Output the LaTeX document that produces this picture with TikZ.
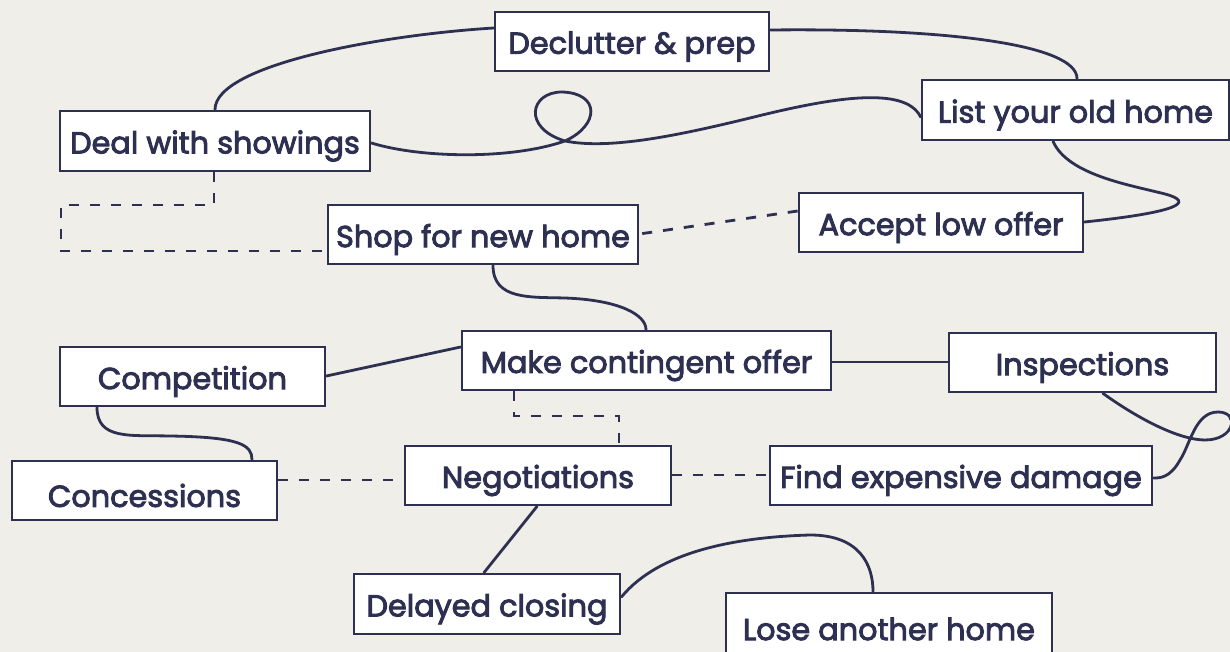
\documentclass[tikz,border=0pt]{standalone}
\usepackage{fontspec}
\setmainfont{Poppins}[FakeBold=3]
\definecolor{bg}{HTML}{F0EEE9}
\definecolor{ink}{HTML}{2D3050}
\newcommand{\lbl}[1]{\raisebox{-5pt}[\height][\depth]{#1}}
\begin{document}
\begin{tikzpicture}[x=1pt,y=-1pt,
  box/.style={draw=ink, line width=2.8pt, fill=white, inner sep=0pt, text=ink,
    font=\fontsize{30.3}{33}\selectfont, align=center},
  wire/.style={draw=ink, line width=2.8pt, line cap=round},
  dwire/.style={draw=ink, line width=2.8pt, dash pattern=on 10pt off 11pt}]
\fill[bg] (0,0) rectangle (1230,652);
\useasboundingbox (0,0) rectangle (1230,652);
\node[box, minimum width=274pt, minimum height=59pt] (declutter) at (632,41.5) {\lbl{Declutter \& prep}};
\node[box, minimum width=307pt, minimum height=60pt] (listold) at (1075.5,110) {\lbl{List your old home}};
\node[box, minimum width=310pt, minimum height=60pt] (deal) at (215,141) {\lbl{Deal with showings}};
\node[box, minimum width=310pt, minimum height=59pt] (shop) at (483,234.5) {\lbl{Shop for new home}};
\node[box, minimum width=284pt, minimum height=59pt] (accept) at (941,222.5) {\lbl{Accept low offer}};
\node[box, minimum width=369pt, minimum height=59pt] (make) at (646.5,360.5) {\lbl{Make contingent offer}};
\node[box, minimum width=265pt, minimum height=59pt] (competition) at (192.5,376.5) {\lbl{Competition}};
\node[box, minimum width=267pt, minimum height=59pt] (inspections) at (1082.5,362.5) {\lbl{Inspections}};
\node[box, minimum width=265pt, minimum height=59pt] (concessions) at (144.5,490.5) {\lbl{Concessions}};
\node[box, minimum width=266pt, minimum height=59pt] (negotiations) at (538,475.5) {\lbl{Negotiations}};
\node[box, minimum width=382pt, minimum height=59pt] (finddamage) at (961,475.5) {\lbl{Find expensive damage}};
\node[box, minimum width=266pt, minimum height=60pt] (delayed) at (487,604) {\lbl{Delayed closing}};
\node[box, minimum width=326pt, minimum height=62pt] (lose) at (889,624) {\lbl{Lose another home}};
% connectors
\draw[wire] (deal.north) .. controls (215,65) and (380,35) .. (declutter.west |- 0,28);
\draw[wire] (declutter.east |- 0,30) .. controls (950,28) and (1077,45) .. (listold.north -| 1077,0);
\draw[wire] (deal.east |- 0,143) .. controls (420,158) and (510,160) .. (565,141)
  .. controls (600,125) and (600,93) .. (562,92)
  .. controls (530,92) and (522,128) .. (565,141)
  .. controls (610,150) and (680,135) .. (750,118)
  .. controls (830,98) and (905,85) .. (listold.west |- 0,117);
\draw[wire] (listold.south -| 1053,0) .. controls (1068,175) and (1130,185) .. (1165,194)
  .. controls (1195,202) and (1180,212) .. (accept.east |- 0,222);
\draw[dwire] (accept.west |- 0,211) -- (shop.east |- 0,234);
\draw[dwire] (deal.south -| 214,0) -- (214,205) -- (61,205) -- (61,251) -- (shop.west |- 0,251);
\draw[wire] (shop.south -| 493,0) .. controls (493,300) and (530,297) .. (565,298)
  .. controls (620,300) and (646,315) .. (make.north -| 646,0);
\draw[wire] (competition.east |- 0,376) -- (make.west |- 0,347);
\draw[wire] (make.east |- 0,362) -- (inspections.west |- 0,362);
\draw[dwire] (make.south -| 514,0) -- (514,416) -- (619,416) -- (negotiations.north -| 619,0);
\draw[wire] (competition.south -| 97,0) .. controls (97,440) and (130,435) .. (170,436)
  .. controls (240,437) and (252,445) .. (concessions.north -| 252,0);
\draw[dwire] (concessions.east |- 0,480) -- (negotiations.west |- 0,480);
\draw[dwire] (negotiations.east |- 0,475) -- (finddamage.west |- 0,475);
\draw[wire] (inspections.south -| 1103,0) .. controls (1140,420) and (1180,440) .. (1205,440)
  .. controls (1235,440) and (1240,412) .. (1218,412)
  .. controls (1195,412) and (1190,445) .. (1180,460)
  .. controls (1170,478) and (1160,478) .. (finddamage.east |- 0,478);
\draw[wire] (negotiations.south -| 537,0) -- (delayed.north -| 484,0);
\draw[wire] (delayed.east |- 0,597) .. controls (660,550) and (740,537) .. (810,535)
  .. controls (860,535) and (873,565) .. (lose.north -| 873,0);
\end{tikzpicture}
\end{document}
